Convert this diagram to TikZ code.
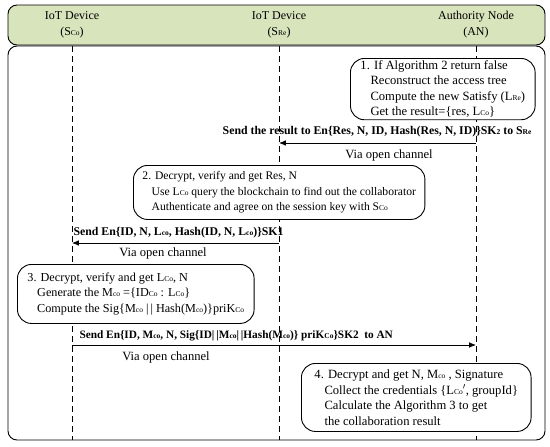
\documentclass[tikz,border=0pt]{standalone}
\usepackage{fontspec}
\setmainfont{Liberation Serif}
\usetikzlibrary{arrows.meta,positioning,calc}
\definecolor{hdrFill} {HTML}{D8E4BC}
\definecolor{lineC}   {HTML}{000000}
\newcommand{\sm}[1]{{\fontsize{7.5}{8}\selectfont #1}}
\newcommand{\lineIn}{\hspace*{0.8em}}
\newcommand{\bars}{|\,|}
\tikzset{
  >={Latex[length=2.4mm,width=2mm]},
  frameBox/.style={draw=lineC,line width=0.9pt,rounded corners=9pt},
  lifeLine/.style={draw=lineC,line width=0.8pt,dash pattern=on 6pt off 4pt},
  stepBox/.style={draw=lineC,line width=0.9pt,rounded corners=14pt,fill=white,
    align=left,anchor=north west,inner ysep=2pt,font=\fontsize{12.6}{15.5}\selectfont},
  headText/.style={align=center,font=\fontsize{12}{16}\selectfont},
  msgText/.style={font=\fontsize{11.8}{13}\selectfont\bfseries},
  viaText/.style={font=\fontsize{12.6}{13}\selectfont},
  msgArrow/.style={->,line width=0.9pt},
}
\begin{document}
\begin{tikzpicture}[x=1pt,y=1pt]
\useasboundingbox (0,0) rectangle (550,-447);
% header and frame
\draw[frameBox,fill=hdrFill] (8,-5) rectangle (545,-45);
\draw[frameBox] (8,-46) rectangle (545,-440);
\node[headText] (sco) at (72,-25) {IoT Device\\(S\sm{Co})};
\node[headText] (sre) at (279,-25) {IoT Device\\(S\sm{Re})};
\node[headText] (an) at (476,-25) {Authority Node\\(AN)};
% lifelines
\coordinate (scoTop) at (72,-46);  \coordinate (scoBot) at (72,-440);
\coordinate (sreTop) at (279,-46); \coordinate (sreBot) at (279,-440);
\coordinate (anTop) at (476,-46);  \coordinate (anBot) at (476,-440);
\draw[lifeLine] (scoTop) -- (scoBot);
\draw[lifeLine] (sreTop) -- (sreBot);
\draw[lifeLine] (anTop) -- (anBot);
% step 1
\node[stepBox,minimum height=60pt,inner xsep=10pt] (stepA) at (350,-58) {%
  1. If Algorithm 2 return false\\
  \lineIn Reconstruct the access tree\\
  \lineIn Compute the new Satisfy (L\sm{Re})\\
  \lineIn Get the result=\{res, L\sm{Co}\}};
\coordinate (anA) at (476,-143);
\coordinate (sreA) at (279,-143);
\draw[msgArrow] (anA) -- (sreA);
\node[msgText,anchor=east] (msgA) at (535,-132) {Send the result to En\{Res, N, ID, Hash(Res, N, ID)\}SK\sm{2} to S\sm{Re}};
\node[viaText] (viaA) at (389,-155) {Via open channel};
% step 2
\node[stepBox,minimum height=54pt,inner xsep=9pt,font=\fontsize{11.6}{15.5}\selectfont] (stepB) at (133,-165) {%
  2. Decrypt, verify and get Res, N\\
  \lineIn Use L\sm{Co} query the blockchain to find out the collaborator\\
  \lineIn Authenticate and agree on the session key with S\sm{Co}};
\coordinate (sreB) at (279,-243);
\coordinate (scoB) at (72,-243);
\draw[msgArrow] (sreB) -- (scoB);
\node[msgText,anchor=west] (msgB) at (70,-233) {Send En\{ID, N, L\sm{co}, Hash(ID, N, L\sm{co})\}SK1};
\node[viaText] (viaB) at (163,-253) {Via open channel};
% step 3
\node[stepBox,minimum height=59pt,inner xsep=10pt,font=\fontsize{12.2}{15.5}\selectfont] (stepC) at (17,-264) {%
  3. Decrypt, verify and get L\sm{Co}, N\\
  \lineIn Generate the M\sm{co} =\{ID\sm{Co} : L\sm{Co}\}\\
  \lineIn Compute the Sig\{M\sm{co} \bars{} Hash(M\sm{co})\}priK\sm{Co}};
\coordinate (scoC) at (72,-345);
\coordinate (anC) at (476,-345);
\draw[msgArrow] (scoC) -- (anC);
\node[msgText,anchor=west,font=\fontsize{11.3}{13}\selectfont\bfseries] (msgC) at (76,-336) {Send En\{ID, M\sm{co}, N, Sig\{ID\bars M\sm{co}\bars Hash(M\sm{co})\} priK\sm{Co}\}SK2\ \ to AN};
\node[viaText] (viaC) at (166,-357) {Via open channel};
% step 4
\node[stepBox,minimum height=68pt,inner xsep=13pt] (stepD) at (301,-363) {%
  4. Decrypt and get N, M\sm{co} , Signature\\
  \lineIn Collect the credentials \{L\sm{Co}$'$, groupId\}\\
  \lineIn Calculate the Algorithm 3 to get\\
  \lineIn the collaboration result};
\end{tikzpicture}
\end{document}
